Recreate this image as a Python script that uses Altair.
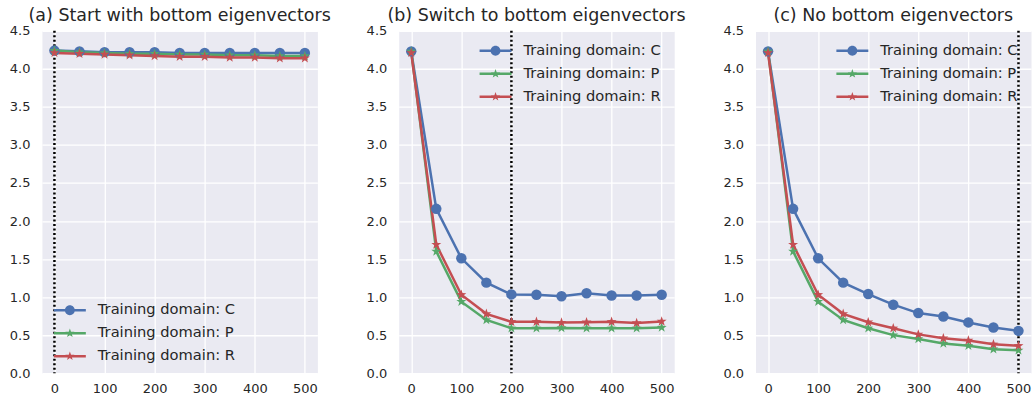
import math
import altair as alt
import pandas as pd

# ---------------- data ----------------
steps = [0, 50, 100, 150, 200, 250, 300, 350, 400, 450, 500]
series_names = ["Training domain: C", "Training domain: P", "Training domain: R"]
colors = ["#4C72B0", "#55A868", "#C44E52"]

titles = [
    "(a) Start with bottom eigenvectors",
    "(b) Switch to bottom eigenvectors",
    "(c) No bottom eigenvectors",
]
switch_steps = [0, 200, 500]

a_C = [4.24, 4.23, 4.22, 4.22, 4.22, 4.21, 4.21, 4.21, 4.21, 4.21, 4.21]
a_P = [4.24, 4.22, 4.21, 4.20, 4.20, 4.19, 4.19, 4.18, 4.18, 4.17, 4.17]
a_R = [4.21, 4.20, 4.19, 4.18, 4.17, 4.16, 4.16, 4.15, 4.15, 4.14, 4.14]

b_C = [4.23, 2.16, 1.51, 1.19, 1.035, 1.03, 1.01, 1.05, 1.02, 1.02, 1.03]
b_P = [4.23, 1.60, 0.94, 0.70, 0.59, 0.59, 0.595, 0.59, 0.59, 0.59, 0.60]
b_R = [4.21, 1.69, 1.03, 0.78, 0.675, 0.675, 0.665, 0.67, 0.675, 0.66, 0.68]

c_C = [4.23, 2.16, 1.51, 1.19, 1.04, 0.90, 0.79, 0.745, 0.667, 0.60, 0.556]
c_P = [4.23, 1.60, 0.94, 0.70, 0.59, 0.50, 0.45, 0.39, 0.36, 0.315, 0.30]
c_R = [4.21, 1.69, 1.03, 0.78, 0.67, 0.59, 0.51, 0.46, 0.43, 0.38, 0.36]

panels = [[a_C, a_P, a_R], [b_C, b_P, b_R], [c_C, c_P, c_R]]

x_ticks = [0, 100, 200, 300, 400, 500]
y_ticks = [0.0, 0.5, 1.0, 1.5, 2.0, 2.5, 3.0, 3.5, 4.0, 4.5]

# legend placement (px inside plot area)
legend_xy = [(12, 264), (81, 4), (81, 4)]

# ---------------- style ----------------
TXT = "#262626"
FONT = "DejaVu Sans"
BG = "#EAEAF2"
PANEL_W, PANEL_H = 276, 343


def star(r_out, r_in, cx=0.0):
    pts = []
    for k in range(10):
        ang = -math.pi / 2 + k * math.pi / 5
        r = r_out if k % 2 == 0 else r_in
        pts.append((cx + r * math.cos(ang), r * math.sin(ang)))
    d = "M" + " L".join(f"{px:.4f},{py:.4f}" for px, py in pts) + " Z"
    return d


def circle(r):
    return (f"M{r},0 A{r},{r} 0 1,1 {-r},0 A{r},{r} 0 1,1 {r},0 Z")


bar = "M-1,-0.08 L1,-0.08 L1,0.08 L-1,0.08 Z "
legend_shapes = [bar + circle(0.31), bar + star(0.3, 0.12), bar + star(0.3, 0.12)]
plot_shapes = ["circle", star(1.0, 0.4), star(1.0, 0.4)]


def panel(i):
    rows = []
    for name, vals in zip(series_names, panels[i]):
        for s, v in zip(steps, vals):
            rows.append({"step": s, "value": v, "series": name})
    df = pd.DataFrame(rows)

    xenc = alt.X(
        "step:Q",
        scale=alt.Scale(domain=[-25, 525], nice=False, zero=False),
        axis=alt.Axis(values=x_ticks, title=None, format="d"),
    )
    yenc = alt.Y(
        "value:Q",
        scale=alt.Scale(domain=[0, 4.5], nice=False, zero=False),
        axis=alt.Axis(values=y_ticks, title=None, format=".1f"),
    )
    cscale = alt.Scale(domain=series_names, range=colors)

    rule = (
        alt.Chart(pd.DataFrame({"step": [switch_steps[i]]}))
        .mark_rule(color="black", strokeDash=[2, 2.5], strokeWidth=2.5)
        .encode(x=alt.X("step:Q"))
    )
    lines = (
        alt.Chart(df)
        .mark_line(strokeWidth=2.5)
        .encode(x=xenc, y=yenc, color=alt.Color("series:N", scale=cscale, legend=None),
                order="step:Q")
    )
    points = (
        alt.Chart(df)
        .mark_point(filled=True, opacity=1, size=110, strokeWidth=0)
        .encode(
            x=xenc,
            y=yenc,
            color=alt.Color("series:N", scale=cscale, legend=None),
            shape=alt.Shape("series:N",
                            scale=alt.Scale(domain=series_names, range=plot_shapes),
                            legend=None),
        )
    )
    lx, ly = legend_xy[i]
    leg = dict(
        title=None, orient="none", legendX=lx, legendY=ly,
        symbolSize=1024, symbolStrokeWidth=0, labelFontSize=14.7,
        labelFont=FONT, labelColor=TXT, labelOffset=12, rowPadding=-2, padding=0,
    )
    legend_layer = (
        alt.Chart(df)
        .transform_filter("false")
        .mark_point(filled=True, opacity=1, size=1024, strokeWidth=0)
        .encode(
            color=alt.Color("series:N", scale=cscale, legend=alt.Legend(**leg)),
            shape=alt.Shape("series:N",
                            scale=alt.Scale(domain=series_names, range=legend_shapes),
                            legend=alt.Legend(**leg)),
        )
    )
    return (
        alt.layer(rule, lines, points, legend_layer)
        .resolve_scale(shape="independent")
        .resolve_legend(color="independent", shape="independent")
        .properties(
            width=PANEL_W,
            height=PANEL_H,
            view=alt.ViewBackground(fill=BG, stroke="transparent"),
            title=alt.TitleParams(titles[i], fontSize=17.5, font=FONT, fontWeight="normal",
                                  color=TXT, anchor="middle", frame="group", offset=0),
        )
    )


chart = (
    alt.hconcat(panel(0), panel(1), panel(2), spacing=81.5, bounds="flush")
    .properties(padding={"left": 8, "top": 6.5, "right": 0, "bottom": 0})
    .configure_view(fill=BG, stroke="transparent")
    .configure_axis(
        domain=False, ticks=False, grid=True, gridColor="white", gridWidth=1.3,
        labelFont=FONT, labelFontSize=13, labelColor=TXT, labelPadding=12,
    )
    .configure_axisX(labelPadding=9)
)

chart.save("out.html", embed_options={"renderer": "svg", "actions": False})
